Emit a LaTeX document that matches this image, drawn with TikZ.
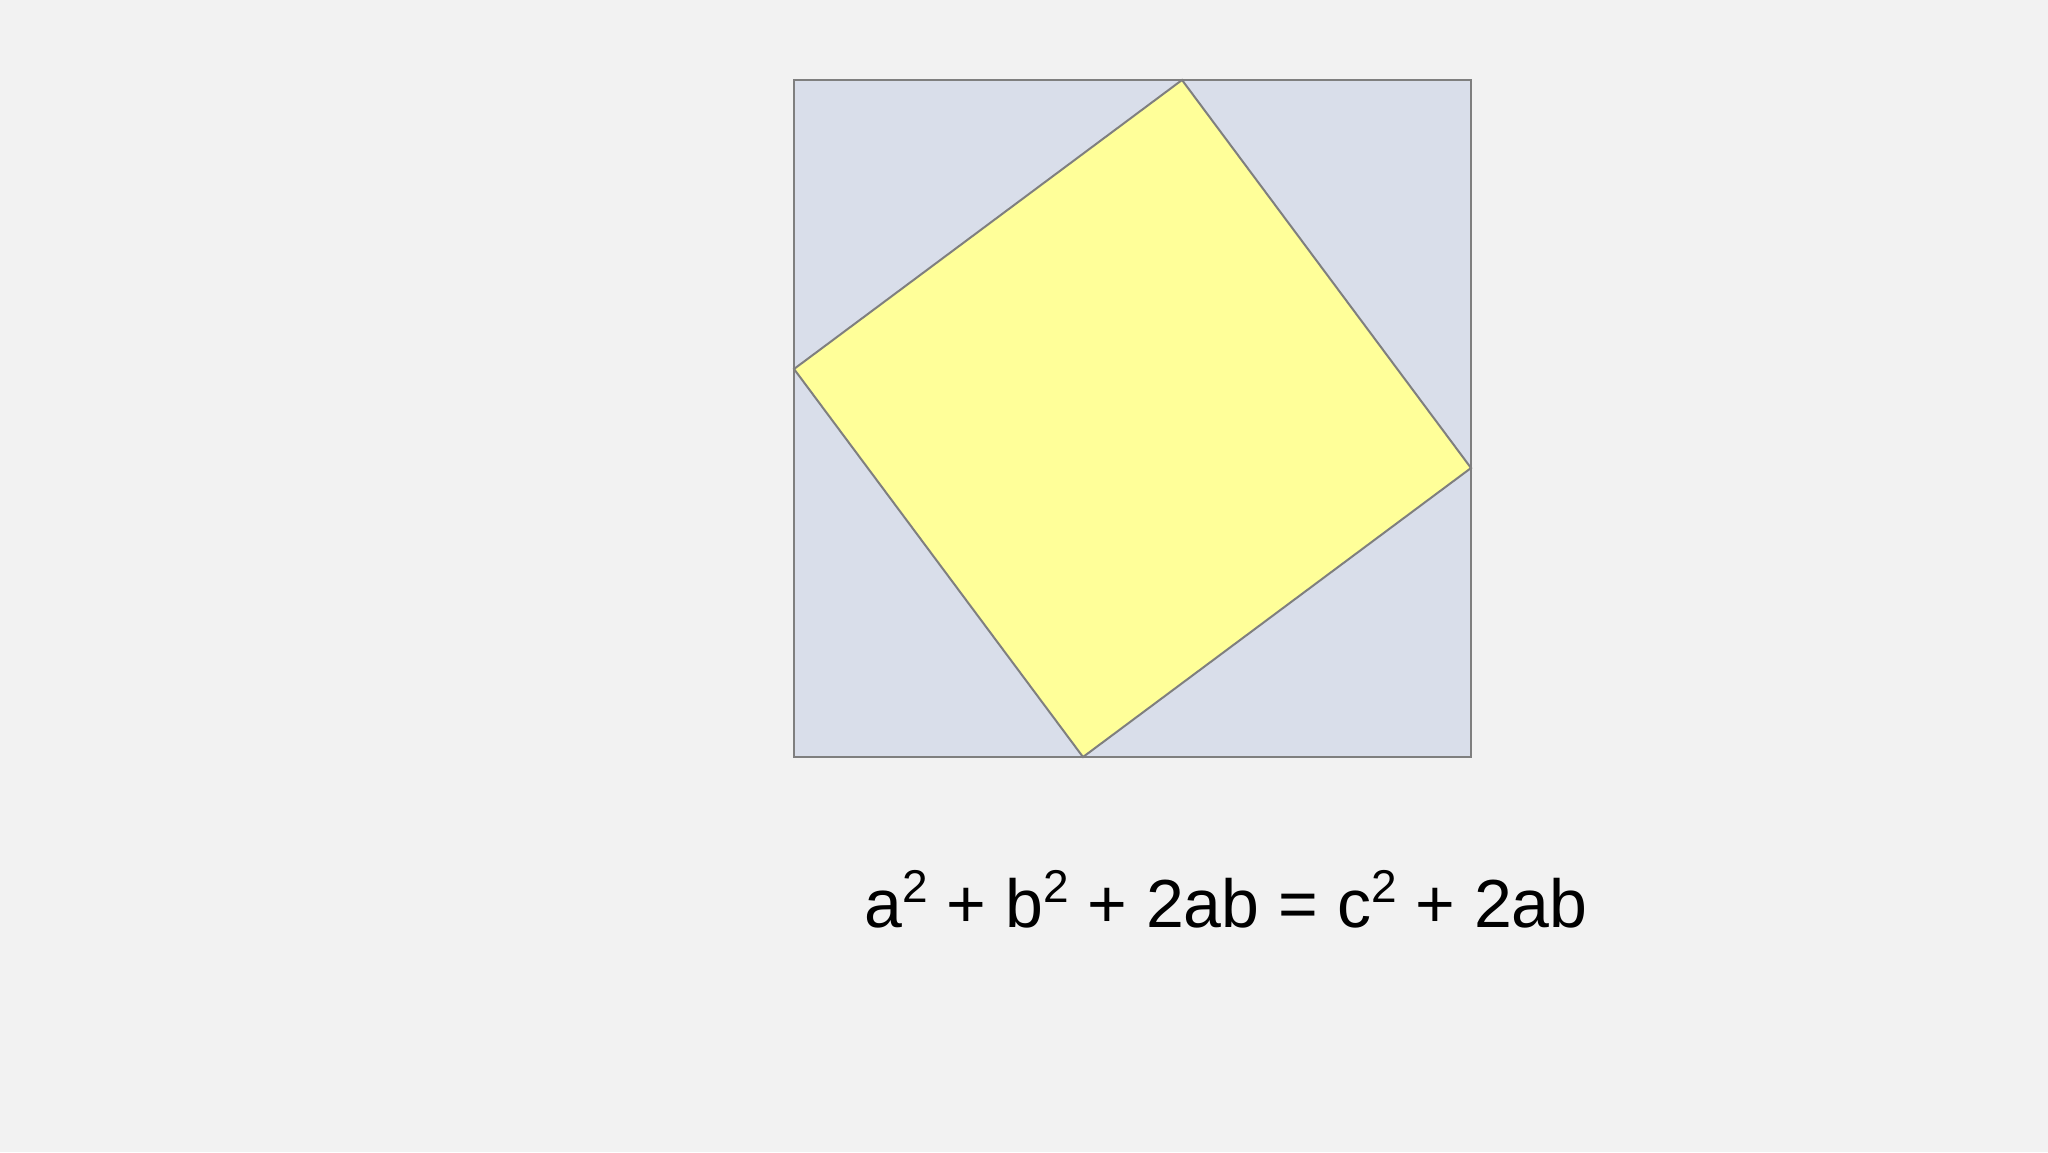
\documentclass[tikz,border=0pt]{standalone}
\usepackage{fontspec}
\setmainfont{Liberation Sans}
\definecolor{bgc}{HTML}{F2F2F2}
\definecolor{outerfill}{HTML}{D9DEEA}
\definecolor{innerfill}{HTML}{FFFF99}
\definecolor{edgec}{HTML}{7F7F7F}
\newcommand{\sqr}{\raisebox{0.36em}{\fontsize{23}{23}\selectfont 2}}
\begin{document}
\begin{tikzpicture}[x=0.5pt,y=-0.5pt,
  outersq/.style={fill=outerfill,draw=edgec,line width=1.2pt},
  innersq/.style={fill=innerfill,draw=edgec,line width=1pt,line join=miter},
  eqtext/.style={font=\fontsize{34}{40}\selectfont,inner sep=0pt}]
\fill[bgc] (0,0) rectangle (2048,1152);
\useasboundingbox (0,0) rectangle (2048,1152);
\coordinate (A) at (794,80);
\coordinate (B) at (1471,80);
\coordinate (C) at (1471,757);
\coordinate (D) at (794,757);
\coordinate (P) at (1182,80);
\coordinate (Q) at (1471,468);
\coordinate (R) at (1083,757);
\coordinate (S) at (794,369);
\draw[outersq] (A) -- (B) -- (C) -- (D) -- cycle;
\draw[innersq] (P) -- (Q) -- (R) -- (S) -- cycle;
\node[eqtext,anchor=base] (eq) at (1226,927) {a\sqr{} + b\sqr{} + 2ab = c\sqr{} + 2ab};
\end{tikzpicture}
\end{document}
